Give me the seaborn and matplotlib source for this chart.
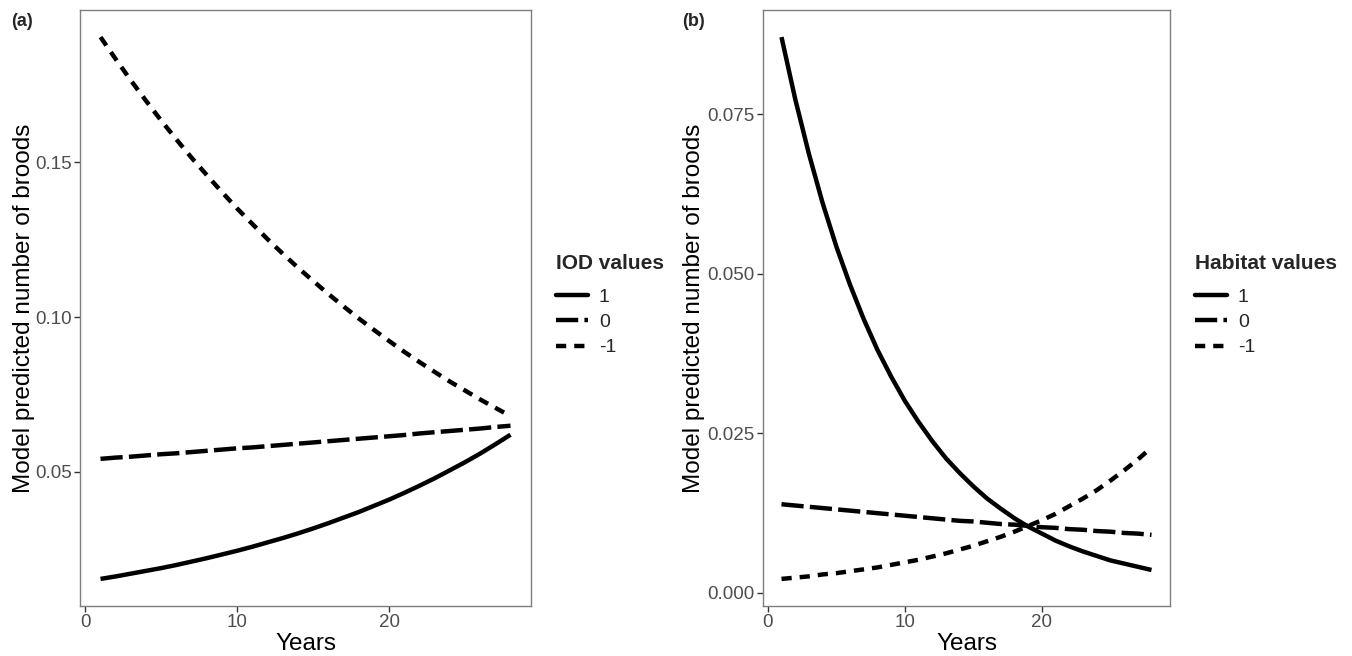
import numpy as np
import pandas as pd
import matplotlib
matplotlib.use("Agg")
import matplotlib.pyplot as plt
from matplotlib.lines import Line2D
import seaborn as sns

years = list(range(1, 29))

iod_pos = [0.0154, 0.0162, 0.0171, 0.0180, 0.0189, 0.0199, 0.0210, 0.0221, 0.0233, 0.0245,
           0.0258, 0.0272, 0.0286, 0.0301, 0.0317, 0.0334, 0.0352, 0.0370, 0.0390, 0.0410,
           0.0432, 0.0455, 0.0479, 0.0505, 0.0531, 0.0559, 0.0589, 0.0620]
iod_zero = [0.0542, 0.0546, 0.0549, 0.0553, 0.0557, 0.0560, 0.0564, 0.0568, 0.0572, 0.0576,
            0.0579, 0.0583, 0.0587, 0.0591, 0.0595, 0.0599, 0.0603, 0.0607, 0.0611, 0.0615,
            0.0619, 0.0624, 0.0628, 0.0632, 0.0636, 0.0640, 0.0645, 0.0649]
iod_neg = [0.1905, 0.1834, 0.1765, 0.1699, 0.1635, 0.1574, 0.1515, 0.1459, 0.1404, 0.1351,
           0.1301, 0.1252, 0.1205, 0.1160, 0.1117, 0.1075, 0.1035, 0.0996, 0.0959, 0.0923,
           0.0888, 0.0855, 0.0823, 0.0792, 0.0763, 0.0734, 0.0707, 0.0680]

hab_pos = [0.0871, 0.0774, 0.0688, 0.0611, 0.0543, 0.0483, 0.0429, 0.0381, 0.0339, 0.0301,
           0.0268, 0.0238, 0.0211, 0.0188, 0.0167, 0.0148, 0.0132, 0.0117, 0.0104, 0.0093,
           0.0082, 0.0073, 0.0065, 0.0058, 0.0051, 0.0046, 0.0041, 0.0036]
hab_zero = [0.0139, 0.0137, 0.0135, 0.0133, 0.0131, 0.0129, 0.0127, 0.0125, 0.0123, 0.0121,
            0.0119, 0.0117, 0.0115, 0.0113, 0.0112, 0.0110, 0.0108, 0.0107, 0.0105, 0.0103,
            0.0102, 0.0100, 0.0099, 0.0097, 0.0096, 0.0094, 0.0093, 0.0091]
hab_neg = [0.0022, 0.0024, 0.0026, 0.0029, 0.0031, 0.0034, 0.0037, 0.0040, 0.0044, 0.0048,
           0.0052, 0.0057, 0.0062, 0.0068, 0.0074, 0.0081, 0.0088, 0.0096, 0.0105, 0.0114,
           0.0124, 0.0136, 0.0148, 0.0161, 0.0176, 0.0192, 0.0209, 0.0228]

levels = ["1", "0", "-1"]
iod_yticks = [0.05, 0.10, 0.15]
iod_yticklabels = ["0.05", "0.10", "0.15"]
hab_yticks = [0.0, 0.025, 0.05, 0.075]
hab_yticklabels = ["0.000", "0.025", "0.050", "0.075"]
xticks = [0, 10, 20]

sns.set_theme(style="ticks")
plt.rcParams["font.family"] = ["Liberation Sans", "DejaVu Sans"]

LW = 3.2
dash_map = {"1": "", "0": (5.0, 1.4), "-1": (2.3, 1.8)}
ls_map = {"1": "-", "0": (0, (5.0, 1.4)), "-1": (0, (2.3, 1.8))}


def make_df(pos, zero, neg):
    frames = []
    for lev, vals in zip(levels, [pos, zero, neg]):
        frames.append(pd.DataFrame({"Years": years, "value": vals, "level": lev}))
    return pd.concat(frames, ignore_index=True)


fig = plt.figure(figsize=(13.52, 6.56), dpi=100)
ax_a = fig.add_axes([80 / 1352, 50 / 656, 451 / 1352, 596 / 656])
ax_b = fig.add_axes([763 / 1352, 50 / 656, 407 / 1352, 596 / 656])

panels = [
    (ax_a, make_df(iod_pos, iod_zero, iod_neg), iod_yticks, iod_yticklabels, "IOD values", "(a)", -0.1, 11, 451),
    (ax_b, make_df(hab_pos, hab_zero, hab_neg), hab_yticks, hab_yticklabels, "Habitat values", "(b)", -0.142, 682, 407),
]

for ax, df, yt, ytl, ltitle, plabel, ylab_x, plabel_x, wpx in panels:
    sns.lineplot(data=df, x="Years", y="value", style="level", style_order=levels,
                 dashes=dash_map, color="black", linewidth=LW, ax=ax, legend=False)
    for ln in ax.get_lines():
        ln.set_dash_capstyle("butt")
        ln.set_solid_capstyle("butt")
    vmin, vmax = df["value"].min(), df["value"].max()
    pad = 0.05 * (vmax - vmin)
    ax.set_ylim(vmin - pad, vmax + pad)
    ax.set_xlim(1 - 0.05 * 27, 28 + 0.05 * 27)
    ax.set_xticks(xticks)
    ax.set_xticklabels([str(t) for t in xticks])
    ax.set_yticks(yt)
    ax.set_yticklabels(ytl)
    ax.tick_params(axis="both", direction="out", length=4, width=1, color="#333333",
                   labelsize=13.5, labelcolor="#4d4d4d", pad=2)
    for sp in ax.spines.values():
        sp.set_visible(True)
        sp.set_color("#7f7f7f")
        sp.set_linewidth(1.0)
    ax.set_xlabel("Years", fontsize=17.5, color="black")
    ax.set_ylabel("Model predicted number of broods", fontsize=17.5, color="black")
    ax.yaxis.set_label_coords(ylab_x, 0.5)
    ax.xaxis.set_label_coords(0.5, -0.045)
    ax.grid(False)
    handles = [Line2D([0], [0], color="black", lw=LW, linestyle=ls_map[l],
                      dash_capstyle="butt") for l in levels]
    leg = ax.legend(handles, levels, title=ltitle, loc="center left",
                    bbox_to_anchor=(1 + 25 / wpx, 0.505), frameon=False, fontsize=14,
                    title_fontproperties={"weight": "bold", "size": 15},
                    handlelength=1.65, handletextpad=0.55, labelspacing=0.4,
                    borderaxespad=0.0, borderpad=0.0)
    leg._legend_box.align = "left"
    leg._legend_box.sep = 11
    fig.text(plabel_x / 1352, 1 - 21 / 656, plabel, fontsize=13, fontweight="bold",
             va="center", ha="left")

fig.savefig("out.png", dpi=100)
